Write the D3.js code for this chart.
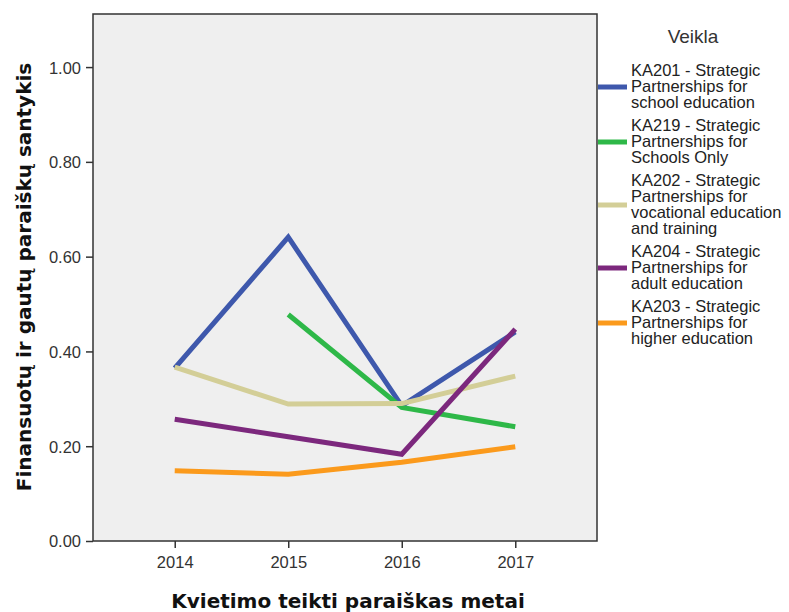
<!DOCTYPE html>
<html>
<head>
<meta charset="utf-8">
<script src="https://cdn.jsdelivr.net/npm/d3@7"></script>
<style>
	body { margin: 0; background: #fff; }
	svg { font-family: "Liberation Sans", Arial, sans-serif; }
</style>
</head>
<body>
<script>

let width = 789;
let height = 612;

let margins = {
	top: 14,
	right: 192,
	bottom: 71,
	left: 93
};

// Data
let years = ["2014", "2015", "2016", "2017"];
let yTicks = [0, 0.2, 0.4, 0.6, 0.8, 1.0];

let ka201 = [0.365, 0.641, 0.285, 0.441];
let ka219 = [null, 0.478, 0.282, 0.241];
let ka202 = [0.367, 0.289, 0.290, 0.348];
let ka204 = [0.257, 0.220, 0.183, 0.447];
let ka203 = [0.148, 0.141, 0.166, 0.199];

let series = [
	{lines: ["KA201 - Strategic", "Partnerships for", "school education"], color: "#3e58ac", values: ka201},
	{lines: ["KA219 - Strategic", "Partnerships for", "Schools Only"], color: "#2eb848", values: ka219},
	{lines: ["KA202 - Strategic", "Partnerships for", "vocational education", "and training"], color: "#d3ce97", values: ka202},
	{lines: ["KA204 - Strategic", "Partnerships for", "adult education"], color: "#7c287d", values: ka204},
	{lines: ["KA203 - Strategic", "Partnerships for", "higher education"], color: "#fb9a1c", values: ka203}
];

let xScale = d3.scalePoint()
	.domain(years)
	.range([margins.left, width - margins.right])
	.padding(0.72);

let yScale = d3.scaleLinear()
	.domain([0, 1.112])
	.range([height - margins.bottom, margins.top]);

let svg = d3.select("body")
	.append("svg")
		.attr("width", width)
		.attr("height", height);

// Plot background
svg.append("rect")
	.attr("x", margins.left)
	.attr("y", margins.top)
	.attr("width", width - margins.left - margins.right)
	.attr("height", height - margins.top - margins.bottom)
	.style("fill", "#efefef")
	.style("stroke", "#333")
	.style("stroke-width", "1.5px");

// Lines
series.forEach((s) => {
	let line = d3.line()
		.defined((d) => d != null)
		.x((d, i) => xScale(years[i]))
		.y((d) => yScale(d));

	svg.append("path")
		.datum(s.values)
		.attr("d", line)
		.style("fill", "none")
		.style("stroke", s.color)
		.style("stroke-width", "5px")
		.style("stroke-linejoin", "miter");
});

// Axes
let xAxis = d3.axisBottom(xScale).tickSize(7).tickSizeOuter(0);
let yAxis = d3.axisLeft(yScale)
	.tickValues(yTicks)
	.tickFormat(d3.format(".2f"))
	.tickSize(7)
	.tickSizeOuter(0);

let gx = svg.append("g")
	.attr("class", "x axis")
	.attr("transform", "translate(0," + (height - margins.bottom) + ")")
	.call(xAxis);
gx.select(".domain").remove();
gx.selectAll("line").style("stroke", "#333").style("stroke-width", "1.5px");
gx.selectAll("text")
	.attr("y", 27)
	.attr("dy", 0)
	.style("font-family", "Liberation Sans, Arial, sans-serif")
	.style("font-size", "16.5px")
	.style("fill", "#333");

let gy = svg.append("g")
	.attr("class", "y axis")
	.attr("transform", "translate(" + margins.left + ",0)")
	.call(yAxis);
gy.select(".domain").remove();
gy.selectAll("line").style("stroke", "#333").style("stroke-width", "1.5px");
gy.selectAll("text")
	.attr("x", -12)
	.attr("dy", "0.36em")
	.style("font-family", "Liberation Sans, Arial, sans-serif")
	.style("font-size", "16.5px")
	.style("fill", "#333");

// Axis titles
svg.append("text")
	.attr("x", 348)
	.attr("y", 608)
	.attr("text-anchor", "middle")
	.style("font-family", "DejaVu Sans, Verdana, sans-serif")
	.style("font-weight", "bold")
	.style("font-size", "20px")
	.style("fill", "#111")
	.text("Kvietimo teikti paraiškas metai");

svg.append("text")
	.attr("transform", "translate(31," + 277 + ") rotate(-90)")
	.attr("text-anchor", "middle")
	.style("font-family", "DejaVu Sans, Verdana, sans-serif")
	.style("font-weight", "bold")
	.style("font-size", "20px")
	.style("fill", "#111")
	.text("Finansuotų ir gautų paraiškų santykis");

// Legend
svg.append("text")
	.attr("x", 693)
	.attr("y", 43)
	.attr("text-anchor", "middle")
	.style("font-size", "19px")
	.style("fill", "#333")
	.text("Veikla");

let lineH = 16;
let gap = 7;
let y0 = 62;
series.forEach((s) => {
	let n = s.lines.length;
	let g = svg.append("g").attr("class", "legend");
	g.append("line")
		.attr("x1", 598)
		.attr("x2", 627)
		.attr("y1", y0 + n * lineH / 2 + 1)
		.attr("y2", y0 + n * lineH / 2 + 1)
		.style("stroke", s.color)
		.style("stroke-width", "5px");
	g.selectAll("text")
		.data(s.lines)
		.enter().append("text")
		.attr("x", 631)
		.attr("y", (d, i) => y0 + i * lineH + 14)
		.style("font-size", "16.5px")
		.style("fill", "#222")
		.text((d) => d);
	y0 += n * lineH + gap;
});

</script>
</body>
</html>
